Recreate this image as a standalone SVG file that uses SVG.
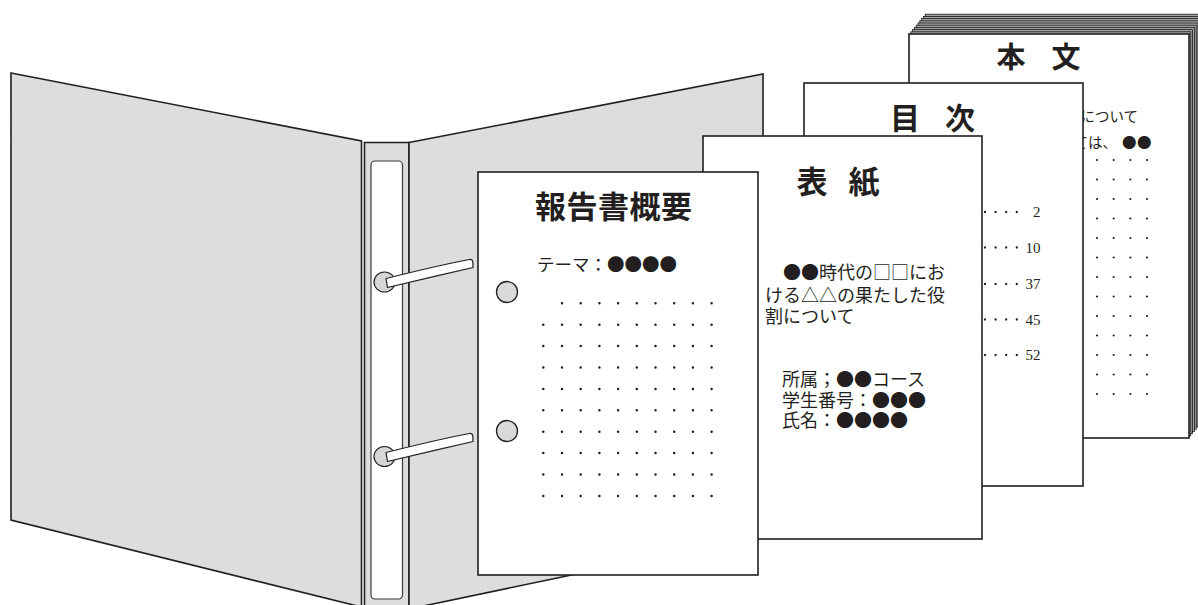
<svg xmlns="http://www.w3.org/2000/svg" width="1198" height="605" viewBox="0 0 1198 605">
  <defs>
    <style>
      .cover { fill: #dcdddd; stroke: #231f20; stroke-width: 1.6; stroke-linejoin: miter; }
      .slot { fill: #ffffff; stroke: #3a3a3a; stroke-width: 1.2; }
      .disc { fill: #d6d6d6; stroke: #231f20; stroke-width: 1.2; }
      .lever { fill: #ffffff; stroke: #231f20; stroke-width: 1.2; stroke-linejoin: round; }
      .page { fill: #ffffff; stroke: #231f20; stroke-width: 1.6; }
      .sheet { fill: #a3a3a3; stroke: #1a1a1a; stroke-width: 0.8; }
      .hole { fill: #d9d9d9; stroke: #231f20; stroke-width: 1.3; }
      .title { font-family: 'Noto Sans CJK JP', sans-serif; font-weight: 700; fill: #231f20; }
      .body { font-family: 'Noto Sans CJK JP', sans-serif; font-weight: 400; fill: #231f20; }
      .num { font-family: 'Liberation Serif', serif; font-size: 15px; fill: #231f20; text-anchor: end; }
      .dots { fill: none; stroke: #231f20; stroke-linecap: round; }
    </style>
  </defs>

  <rect width="1198" height="605" fill="#ffffff"/>

  <!-- open binder: left cover, spine with label slot, right cover -->
  <g id="binder">
    <polygon class="cover" points="11,73 361.5,141 361.5,607 11,520"/>
    <polygon class="cover" points="364.5,142.5 409,142.5 409,610 364.5,610"/>
    <rect class="slot" x="371" y="161" width="31.5" height="438" rx="4"/>
    <polygon class="cover" points="409,142.5 763,74 763,535 409,609"/>
  </g>

  <!-- ring mechanism: two levers -->
  <g id="rings">
    <ellipse class="disc" cx="384.5" cy="282" rx="10.5" ry="10"/>
    <path class="lever" d="M386,278.5 C410,272.5 440,265 469.5,259.5 Q472.6,259.2 472.8,262 L473,267.5 C445,274 415,281 387.5,287.5 Z"/>
    <ellipse class="disc" cx="384.5" cy="456.5" rx="10.5" ry="10"/>
    <path class="lever" d="M386,452.5 C410,446.5 440,439 469.5,433.5 Q472.6,433.2 472.8,436 L473,441.5 C445,448 415,455 387.5,461.5 Z"/>
  </g>

  <!-- 本文: stack of body pages -->
  <g id="honbun">
    <rect class="sheet" x="925.2" y="14.2" width="280" height="404"/>
    <rect class="sheet" x="923.4" y="16.4" width="280" height="404"/>
    <rect class="sheet" x="921.6" y="18.6" width="280" height="404"/>
    <rect class="sheet" x="919.8" y="20.8" width="280" height="404"/>
    <rect class="sheet" x="918" y="23" width="280" height="404"/>
    <rect class="sheet" x="916.2" y="25.2" width="280" height="404"/>
    <rect class="sheet" x="914.4" y="27.4" width="280" height="404"/>
    <rect class="sheet" x="912.6" y="29.6" width="280" height="404"/>
    <rect class="sheet" x="910.8" y="31.8" width="280" height="404"/>
    <rect class="page" x="909" y="34" width="280" height="404"/>
    <text class="title" font-size="29" x="996.5 1051.5" y="68">本文</text>
    <text class="body" font-size="14.5" x="1080.5" y="122">について</text>
    <text class="body" font-size="14.5" x="1073.5 1088 1102.5 1122 1137" y="148">ては、●●</text>
    <g class="dots" stroke-width="2.2" stroke-dasharray="0 16.67">
      <path d="M1097,160H1148"/>
      <path d="M1097,179.5H1148"/>
      <path d="M1097,199H1148"/>
      <path d="M1097,218.5H1148"/>
      <path d="M1097,238H1148"/>
      <path d="M1097,257.5H1148"/>
      <path d="M1097,277H1148"/>
      <path d="M1097,296.5H1148"/>
      <path d="M1097,316H1148"/>
      <path d="M1097,335.5H1148"/>
      <path d="M1097,355H1148"/>
      <path d="M1097,374.5H1148"/>
      <path d="M1097,394H1148"/>
    </g>
  </g>

  <!-- 目次: table of contents page -->
  <g id="mokuji">
    <rect class="page" x="804" y="83" width="279" height="403"/>
    <text class="title" font-size="30" x="890 945" y="129">目次</text>
    <g class="dots" stroke-width="2.3" stroke-dasharray="0 10.6">
      <path d="M953.2,212H1018"/>
      <path d="M953.2,247.5H1018"/>
      <path d="M953.2,284H1018"/>
      <path d="M953.2,319.5H1018"/>
      <path d="M953.2,355H1018"/>
    </g>
    <text class="num" x="1040.5" y="217">2</text>
    <text class="num" x="1040.5" y="252.5">10</text>
    <text class="num" x="1040.5" y="289">37</text>
    <text class="num" x="1040.5" y="324.5">45</text>
    <text class="num" x="1040.5" y="360">52</text>
  </g>

  <!-- 表紙: cover sheet -->
  <g id="hyoshi">
    <rect class="page" x="703" y="136" width="279" height="403"/>
    <text class="title" font-size="31" x="796.5 848.5" y="193">表紙</text>
    <text class="body" font-size="18" x="783" y="279">●●時代の□□にお</text>
    <text class="body" font-size="18" x="765" y="301.5">ける△△の果たした役</text>
    <text class="body" font-size="18" x="765" y="323">割について</text>
    <text class="body" font-size="18" x="782" y="385.5">所属；●●コース</text>
    <text class="body" font-size="18" x="782" y="406.5">学生番号：●●●</text>
    <text class="body" font-size="18" x="782" y="426.5">氏名：●●●●</text>
  </g>

  <!-- 報告書概要: summary sheet on top, punched for the rings -->
  <g id="gaiyou">
    <rect class="page" x="478" y="172" width="280" height="403"/>
    <text class="title" font-size="31" x="535" y="218" letter-spacing="0.5">報告書概要</text>
    <text class="body" font-size="17.5" x="537" y="271">テーマ：●●●●</text>
    <circle class="hole" cx="507" cy="292" r="10.5"/>
    <circle class="hole" cx="507" cy="431" r="10.5"/>
    <g class="dots" stroke-width="2.5" stroke-dasharray="0 18.7">
      <path d="M562,303.3H713"/>
      <path d="M543.3,324.7H713"/>
      <path d="M543.3,346.1H713"/>
      <path d="M543.3,367.5H713"/>
      <path d="M543.3,388.9H713"/>
      <path d="M543.3,410.3H713"/>
      <path d="M543.3,431.7H713"/>
      <path d="M543.3,453.1H713"/>
      <path d="M543.3,474.5H713"/>
      <path d="M543.3,495.9H713"/>
    </g>
  </g>
</svg>
